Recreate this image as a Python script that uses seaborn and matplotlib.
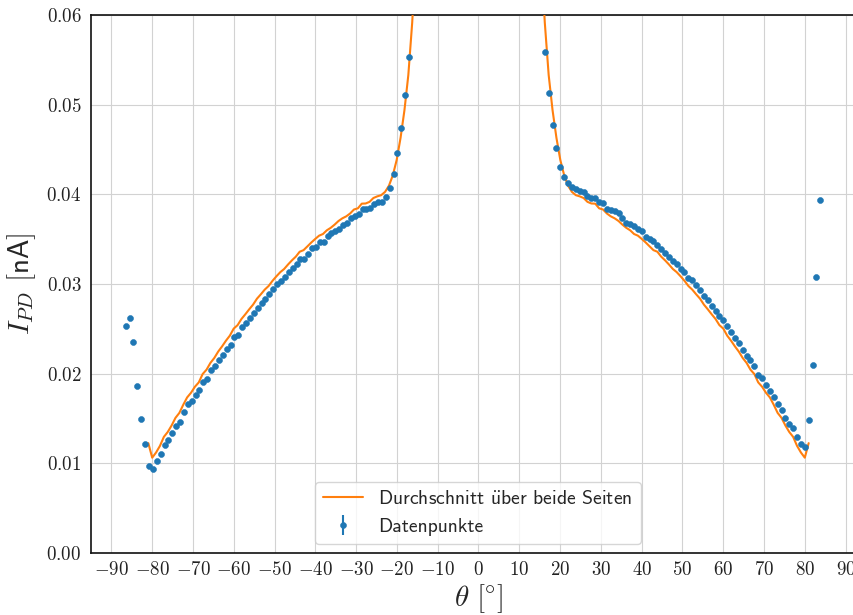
import numpy as np
import pandas as pd
import matplotlib
matplotlib.use("Agg")
import matplotlib.pyplot as plt
from matplotlib.ticker import FuncFormatter
from matplotlib.lines import Line2D
import seaborn as sns

# Photodiode current versus angle, measured on both sides of the normal.
# Angles are equally spaced; the last two left-hand and the first right-hand
# readings lie above the plotted range.
theta_left = np.linspace(-86.5, -15.1, 76)
current_left = [
    0.0253, 0.0262, 0.0235, 0.0186, 0.0150, 0.0122, 0.0097, 0.0094, 0.0103, 0.0110,
    0.0120, 0.0126, 0.01335, 0.0142, 0.0146, 0.0157, 0.0166, 0.0170, 0.0176, 0.0182,
    0.0191, 0.0194, 0.0204, 0.0209, 0.0215, 0.0221, 0.0227, 0.0232, 0.0241, 0.02435,
    0.0252, 0.0257, 0.0262, 0.02673, 0.02736, 0.02785, 0.0283, 0.02892, 0.02941, 0.0300,
    0.03037, 0.03078, 0.0313, 0.03178, 0.0322, 0.03282, 0.03275, 0.03338, 0.03398, 0.03413,
    0.03465, 0.03472, 0.03532, 0.03569, 0.03591, 0.03617, 0.03655, 0.03684, 0.03733, 0.03762,
    0.03777, 0.03836, 0.0384, 0.03851, 0.03896, 0.03915, 0.03918, 0.03970, 0.04067, 0.0423,
    0.04457, 0.04744, 0.05104, 0.05528, 0.0625, 0.0700,
]

theta_right = np.linspace(15.3, 83.8, 73)
current_right = [
    0.0640, 0.05584, 0.05134, 0.04773, 0.04517, 0.04310, 0.04193, 0.04125, 0.04084, 0.04063,
    0.0404, 0.04022, 0.03981, 0.03956, 0.03956, 0.03911, 0.0390, 0.0384, 0.03825, 0.0381,
    0.03788, 0.03733, 0.03684, 0.03666, 0.03643, 0.03613, 0.03591, 0.03528, 0.03502, 0.0348,
    0.03438, 0.0339, 0.03349, 0.03305, 0.03257, 0.03227, 0.03171, 0.0313, 0.03064, 0.03045,
    0.02986, 0.02937, 0.02868, 0.02816, 0.02755, 0.0270, 0.02647, 0.02595, 0.02528, 0.02465,
    0.02398, 0.02342, 0.0226, 0.0220, 0.02149, 0.02082, 0.01985, 0.01948, 0.01874, 0.0181,
    0.01736, 0.01665, 0.01595, 0.01509, 0.01439, 0.0139, 0.0129, 0.01212, 0.01186, 0.0148,
    0.02093, 0.03081, 0.0394,
]
current_err = 0.0002

x_ticks = np.arange(-90, 91, 10)
y_ticks = [0.00, 0.01, 0.02, 0.03, 0.04, 0.05, 0.06]

# Average of both sides: right reading j pairs with left reading 75 - j
n_pairs = 70
cl = np.asarray(current_left)
cr = np.asarray(current_right)
avg = (cr[:n_pairs] + cl[75 - np.arange(n_pairs)]) / 2
avg_right = pd.DataFrame({"theta": theta_right[:n_pairs], "I": avg})
avg_left = pd.DataFrame({"theta": -theta_right[:n_pairs], "I": avg})

points = pd.DataFrame({
    "theta": np.concatenate([theta_left, theta_right]),
    "I": np.concatenate([cl, cr]),
})

sns.set_theme(style="whitegrid")
plt.rcParams["mathtext.fontset"] = "cm"
plt.rcParams["font.family"] = ["cmss10", "DejaVu Sans"]
plt.rcParams["axes.formatter.use_mathtext"] = True

blue = "#1f77b4"
orange = "#ff7f0e"

fig = plt.figure(figsize=(8.54, 6.15), dpi=100)
ax = fig.add_axes([91 / 854, 62 / 615, 775 / 854, 538 / 615])

sns.lineplot(data=avg_left, x="theta", y="I", ax=ax, color=orange, lw=1.5,
             estimator=None, sort=False, zorder=3)
sns.lineplot(data=avg_right, x="theta", y="I", ax=ax, color=orange, lw=1.5,
             estimator=None, sort=False, zorder=3)
ax.errorbar(points["theta"], points["I"], yerr=current_err, fmt="o", color=blue,
            ms=4.3, mew=0.4, elinewidth=1.5, zorder=4)

ax.set_xlim(-95, 95)
ax.set_ylim(0, 0.06)
ax.set_xticks(x_ticks)
ax.set_yticks(y_ticks)
ax.xaxis.set_major_formatter(FuncFormatter(lambda v, p: f"${v:.0f}$"))
ax.yaxis.set_major_formatter(FuncFormatter(lambda v, p: f"${v:.2f}$"))
ax.tick_params(axis="both", length=0, labelsize=13.6, colors="#222222", pad=6)
ax.tick_params(axis="y", pad=7)

ax.grid(True, color="#d2d2d2", lw=0.8)
for side in ["left", "bottom", "top", "right"]:
    ax.spines[side].set_color("#111111")
    ax.spines[side].set_linewidth(1.2)

ax.set_xlabel(r"$\theta\ [\!^\circ\!]$", fontsize=21, labelpad=2)
ax.set_ylabel(r"$I_{PD}\ [\mathsf{nA}]$", fontsize=21, labelpad=6)

line_handle = Line2D([], [], color=orange, lw=1.5)
err_handle = ax.containers[0]
leg = ax.legend([line_handle, err_handle],
                [r"Durchschnitt $\mathsf{\ddot{u}ber}$ beide Seiten", "Datenpunkte"],
                loc="lower center", bbox_to_anchor=((478 - 91) / 775, 0.0),
                fontsize=14.2, frameon=True, borderaxespad=0.45)
leg.get_frame().set_edgecolor("#cccccc")

fig.savefig("out.png", dpi=100)
